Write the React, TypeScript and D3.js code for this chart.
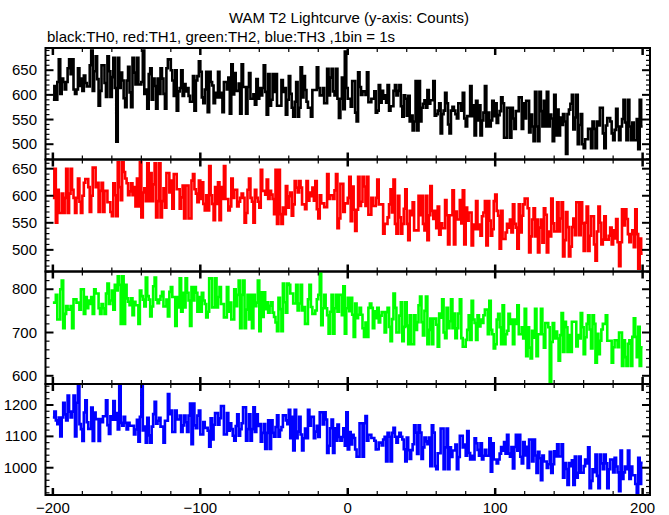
import React from "react";
import * as d3 from "d3";

const TITLE = "WAM T2 Lightcurve (y-axis: Counts)";
const SUBTITLE = "black:TH0, red:TH1, green:TH2, blue:TH3 ,1bin = 1s";

const T_START = -200;
const xTicksMajor = [-200, -100, 0, 100, 200];
const xTickLabels = ["\u2212200", "\u2212100", "0", "100", "200"];

const th0: number[] = [
590,618,590,626,672,602,633,626,611,626,654,672,642,672,611,602,611,654,618,633,
608,639,624,617,617,660,690,608,648,678,632,578,608,660,660,624,596,678,648,596,
636,675,614,505,675,614,645,629,593,575,629,657,605,575,675,645,621,675,621,621,
626,690,602,611,572,642,654,590,633,618,572,633,602,654,633,602,572,654,672,672,
650,629,598,650,568,607,614,650,598,622,607,614,598,586,586,638,568,629,638,668,
647,595,583,611,647,565,647,626,619,583,604,595,647,595,604,565,626,626,611,635,
562,662,601,644,608,608,623,562,662,616,616,562,616,644,592,592,601,580,632,592,
614,599,614,660,606,560,642,578,590,642,606,642,578,578,578,630,606,614,560,590,
638,602,574,556,586,626,556,574,656,595,638,610,586,574,574,556,610,610,610,656,
614,599,599,614,583,583,653,599,635,653,607,599,653,592,553,592,635,571,688,614,
592,592,576,628,628,564,546,646,616,600,607,607,600,646,585,585,592,592,607,564,
568,620,584,608,592,599,584,620,568,577,577,608,620,599,608,620,577,556,599,592,
558,598,546,558,528,546,628,528,628,546,574,582,589,574,610,582,589,589,628,558,
561,568,583,522,561,568,604,583,540,522,568,576,568,561,552,583,583,568,604,552,
536,557,557,618,557,579,518,588,548,579,518,548,564,618,536,564,536,548,588,557,
583,543,559,567,595,583,513,513,574,574,513,574,552,531,567,567,595,595,531,583,
552,588,588,524,560,536,506,606,536,506,606,567,536,588,536,606,536,560,552,506,
600,518,570,518,554,539,561,546,480,561,570,582,600,530,554,600,500,539,561,500,
492,510,510,531,531,492,546,531,492,546,538,574,574,522,492,538,553,553,546,522,
508,529,572,536,508,536,551,590,544,508,590,536,508,544,508,508,551,490,590,536
];

const th1: number[] = [
596,650,550,611,568,568,604,568,596,650,568,604,650,611,596,568,596,632,589,568,
600,624,631,631,616,570,600,652,652,616,624,570,609,624,570,609,609,588,588,570,
562,623,601,562,662,616,592,662,644,632,623,601,608,623,601,616,580,632,580,662,
560,606,614,590,660,590,642,590,621,660,560,590,660,560,590,614,578,642,642,606,
628,576,640,640,612,612,576,597,619,558,619,619,558,558,628,640,612,604,588,628,
594,625,585,573,601,573,655,601,585,555,616,585,625,555,616,594,655,594,594,573,
580,632,596,611,611,580,589,596,604,596,550,568,611,632,596,589,550,611,596,589,
578,648,609,609,602,630,594,609,602,594,566,648,548,648,566,548,578,566,618,578,
599,606,563,584,627,615,606,627,615,584,584,575,627,591,606,599,615,591,627,575,
558,601,586,586,579,579,640,594,601,601,594,610,640,540,558,622,622,570,586,586,
596,635,553,617,574,535,574,635,581,589,635,617,581,635,565,565,596,581,581,596,
630,584,584,584,530,548,548,560,584,612,569,630,548,530,600,560,530,548,576,612,
548,518,572,564,588,536,536,536,600,564,600,548,536,600,518,564,618,572,557,572,
540,580,528,549,540,540,592,564,510,564,564,610,510,571,556,556,592,549,610,510,
578,554,569,569,508,547,538,590,538,547,526,562,569,590,508,590,554,526,538,590,
602,572,563,502,572,520,520,532,548,541,556,532,584,548,541,502,584,532,563,584,
595,595,577,495,525,556,577,525,556,495,541,556,513,577,565,495,534,525,595,549,
534,534,588,534,558,588,488,518,570,542,488,506,542,558,527,588,588,527,588,549,
498,550,580,498,526,562,562,510,480,534,580,550,510,519,562,519,519,526,541,510,
536,521,557,514,470,514,575,545,575,557,529,514,529,536,505,575,529,465,521,493
];

const th2: number[] = [
769,769,787,730,730,800,820,710,743,761,753,753,761,710,777,777,769,769,753,800,
800,743,782,756,774,766,782,743,800,790,790,756,743,766,756,743,790,813,766,774,
797,753,810,797,830,810,720,830,720,810,779,771,763,779,740,771,763,763,720,797,
784,776,760,827,784,776,737,760,807,827,776,768,776,784,794,760,760,776,737,794,
805,782,782,715,782,758,825,748,792,758,825,792,774,715,805,774,805,792,748,782,
748,792,774,766,735,748,825,825,758,758,825,758,782,805,766,766,735,735,805,748,
769,730,730,800,761,787,820,710,787,820,710,753,787,730,787,710,787,761,769,820,
703,793,736,793,754,770,746,762,770,746,736,723,703,780,754,703,813,770,746,813,
810,790,790,767,767,810,751,767,810,751,759,720,720,777,810,759,743,743,751,777,
787,842,717,756,787,756,740,697,748,787,697,756,787,748,787,787,740,807,697,756,
780,749,780,741,690,767,733,741,757,741,710,690,723,690,757,767,757,710,749,733,
757,723,739,747,747,700,747,757,713,680,731,790,757,700,700,739,770,680,713,770,
716,673,740,673,673,740,706,724,763,783,724,693,750,783,673,706,732,673,732,732,
718,667,744,734,777,700,687,757,710,726,777,710,744,687,710,744,777,687,667,667,
683,706,740,683,773,730,722,683,740,714,730,722,740,753,753,696,773,706,696,663,
673,730,743,712,673,763,673,696,704,743,720,730,673,730,720,763,696,696,712,686,
755,645,712,665,640,704,688,755,645,696,696,755,696,665,722,722,712,585,678,722,
686,702,686,635,694,745,655,725,712,655,694,655,725,725,725,668,694,686,745,712,
650,689,720,740,707,663,740,720,630,697,650,681,707,720,720,740,681,681,681,630,
666,682,682,666,700,700,623,682,643,623,674,682,623,690,733,690,643,713,623,666
];

const th3: number[] = [
1160,1179,1151,1139,1160,1100,1160,1207,1170,1151,1230,1179,1160,1179,1230,1100,1207,1265,1139,1123,
1085,1176,1215,1145,1124,1124,1192,1085,1176,1155,1155,1085,1155,1145,1164,1164,1215,1136,1108,1164,
1153,1213,1153,1174,1122,1268,1143,1134,1162,1143,1122,1143,1134,1134,1134,1106,1122,1153,1083,1162,
1260,1119,1131,1080,1159,1103,1080,1131,1171,1210,1140,1150,1159,1131,1131,1080,1150,1150,1235,1171,
1182,1114,1114,1182,1154,1154,1166,1114,1135,1166,1145,1114,1166,1205,1075,1205,1135,1126,1166,1182,
1106,1106,1146,1127,1127,1118,1067,1158,1090,1137,1174,1174,1137,1158,1197,1197,1106,1106,1174,1118,
1142,1123,1102,1086,1133,1170,1102,1123,1142,1193,1193,1086,1123,1170,1086,1123,1193,1114,1170,1133,
1139,1083,1111,1139,1060,1111,1151,1060,1151,1111,1099,1130,1167,1099,1120,1130,1167,1167,1151,1139,
1185,1094,1162,1055,1185,1094,1115,1162,1106,1055,1094,1125,1094,1185,1134,1162,1162,1094,1115,1134,
1098,1177,1177,1138,1177,1154,1047,1070,1126,1154,1047,1126,1086,1138,1098,1086,1098,1126,1070,1177,
1058,1114,1074,1105,1095,1058,1035,1035,1142,1142,1035,1142,1165,1086,1105,1105,1095,1095,1086,1058,
1059,1080,1080,1071,1090,1099,1020,1111,1099,1020,1111,1127,1099,1080,1099,1111,1099,1090,1059,1020,
1096,1056,1028,1056,1075,1135,1112,1044,1135,1112,1028,1065,1096,1084,1075,1096,1005,1135,1112,1005,
995,1046,1046,1125,1125,995,1065,1125,995,1065,1034,1055,1055,1074,995,1034,1102,1102,1065,1074,
1038,1117,1047,1026,1038,1026,1094,1078,1057,1038,1078,1026,1038,1057,1038,1038,1094,987,1078,1026,
1026,1014,1026,1045,1066,1054,1082,1045,1105,1045,1035,1066,998,1066,1105,1054,1105,1035,1014,1082,
1039,1067,999,1090,1090,1020,1090,1039,983,1051,1030,960,1039,1020,1020,999,1011,1051,983,1011,
1052,1036,1075,1036,1036,1075,968,1015,996,945,1015,1005,1024,945,1036,968,984,1036,984,984,
1005,1026,1014,1065,935,958,995,986,1042,974,935,1042,1014,995,1042,1014,935,995,1026,1026,
985,1032,1004,985,925,1055,964,985,1004,995,1055,964,1004,976,976,948,915,1032,948,1016
];

const series = [th0, th1, th2, th3];
const colors = ["#000000", "#ff0000", "#00ff00", "#0000ff"];
const yDomains: [number, number][] = [[469, 695], [460, 667], [581, 841], [913, 1267]];
const yMajor: number[][] = [[500, 550, 600, 650], [500, 550, 600, 650], [600, 700, 800], [1000, 1100, 1200]];
const yMinorStep = [10, 10, 20, 20];

const W = 669, H = 515;
const LEFT = 45.5, RIGHT = 650;
const panelEdges = [48, 159.5, 271.5, 384, 495];
const FONT = "'Liberation Sans', Arial, Helvetica, sans-serif";

export default function App() {
  const x = d3.scaleLinear().domain([-205, 205]).range([LEFT, RIGHT]);
  const xMinor = d3.range(-200, 201, 20);

  return (
    <svg width={W} height={H} style={{ position: "absolute", left: 0, top: 0, background: "#fff" }} fontFamily={FONT}>
      <rect x={0} y={0} width={W} height={H} fill="#fff" />
      <text x={349} y={23} textAnchor="middle" fontSize={15}>{TITLE}</text>
      <text x={47} y={42} fontSize={15}>{SUBTITLE}</text>
      <defs>
        {series.map((_, p) => (
          <clipPath id={`clip${p}`} key={p}>
            <rect x={LEFT} y={panelEdges[p]} width={RIGHT - LEFT} height={panelEdges[p + 1] - panelEdges[p]} />
          </clipPath>
        ))}
      </defs>
      {series.map((vals, p) => {
        const top = panelEdges[p], bot = panelEdges[p + 1];
        const y = d3.scaleLinear().domain(yDomains[p]).range([bot, top]);
        const pts: [number, number][] = vals.map((v, i) => [T_START + i, v]);
        pts.push([T_START + vals.length, vals[vals.length - 1]]);
        const line = d3.line<[number, number]>().x(d => x(d[0])).y(d => y(d[1])).curve(d3.curveStepAfter);
        const [d0, d1] = yDomains[p];
        const minors = d3.range(Math.ceil(d0 / yMinorStep[p]) * yMinorStep[p], d1, yMinorStep[p]).filter(v => !yMajor[p].includes(v));
        return (
          <g key={p}>
            <path d={line(pts) || ""} fill="none" stroke={colors[p]} strokeWidth={2.6} clipPath={`url(#clip${p})`} />
            {minors.map(v => (
              <g key={"m" + v}>
                <line x1={LEFT} x2={LEFT + 4} y1={y(v)} y2={y(v)} stroke="#000" strokeWidth={1.2} />
                <line x1={RIGHT} x2={RIGHT - 4} y1={y(v)} y2={y(v)} stroke="#000" strokeWidth={1.2} />
              </g>
            ))}
            {yMajor[p].map(v => (
              <g key={"M" + v}>
                <line x1={LEFT} x2={LEFT + 8} y1={y(v)} y2={y(v)} stroke="#000" strokeWidth={2} />
                <line x1={RIGHT} x2={RIGHT - 8} y1={y(v)} y2={y(v)} stroke="#000" strokeWidth={2} />
                <text x={37} y={y(v) + 5} textAnchor="end" fontSize={15}>{v}</text>
              </g>
            ))}
            {xMinor.map(t => {
              const major = xTicksMajor.includes(t);
              const len = major ? 7 : 4;
              return (
                <g key={"x" + t}>
                  <line x1={x(t)} x2={x(t)} y1={top} y2={top + len} stroke="#000" strokeWidth={major ? 2.5 : 1.2} />
                  <line x1={x(t)} x2={x(t)} y1={bot} y2={bot - len} stroke="#000" strokeWidth={major ? 2.5 : 1.2} />
                </g>
              );
            })}
            <rect x={LEFT} y={top} width={RIGHT - LEFT} height={bot - top} fill="none" stroke="#000" strokeWidth={2} />
          </g>
        );
      })}
      {xTicksMajor.map((t, i) => (
        <text key={t} x={x(t)} y={513} textAnchor="middle" fontSize={15}>{xTickLabels[i]}</text>
      ))}
    </svg>
  );
}
